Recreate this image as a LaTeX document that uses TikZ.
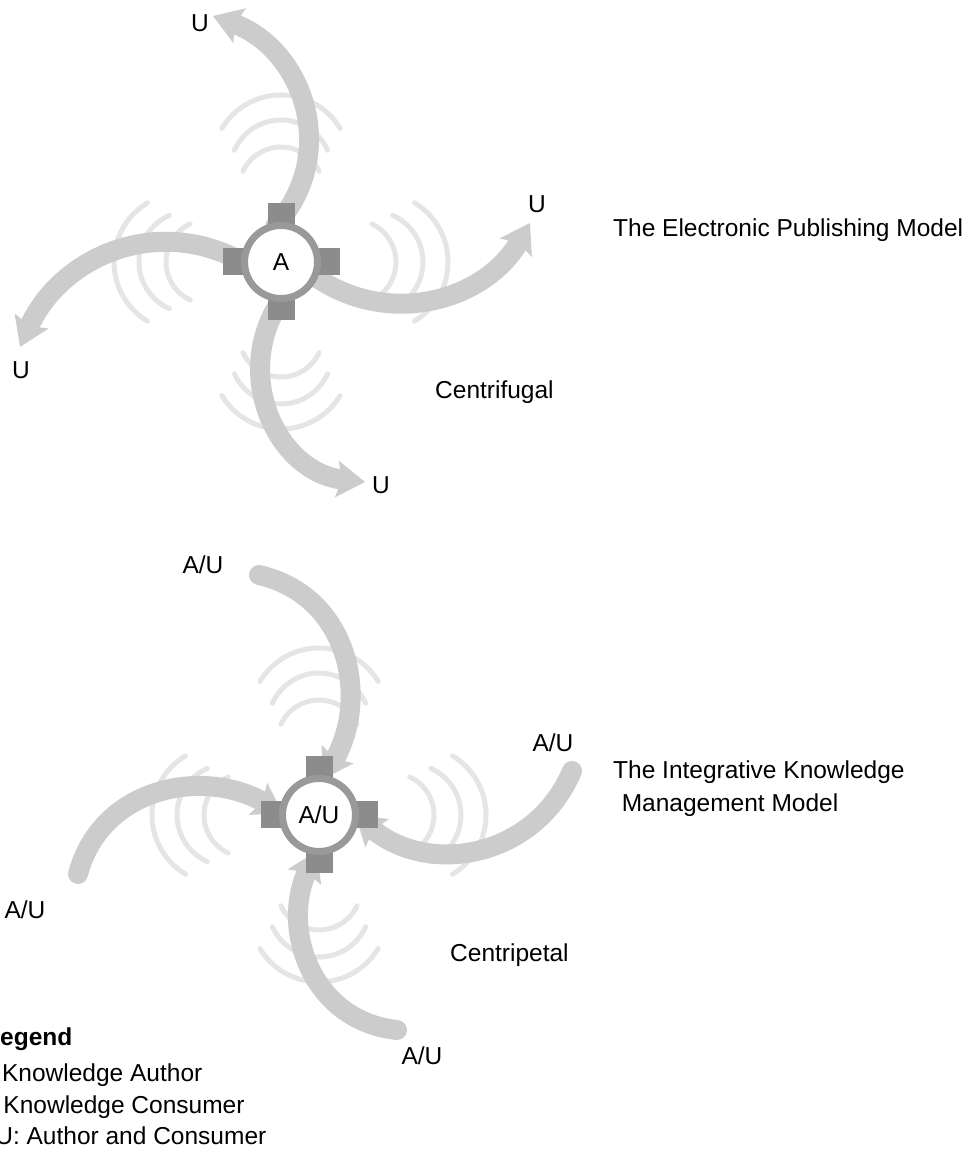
\documentclass[tikz,border=0pt]{standalone}
\usepackage{fontspec}
\setmainfont{Liberation Sans}
\usetikzlibrary{arrows.meta,backgrounds}
\definecolor{bandgray}{gray}{0.80}
\definecolor{wavegray}{gray}{0.90}
\definecolor{portgray}{gray}{0.55}
\definecolor{ringgray}{gray}{0.60}
\tikzset{
  hub/.style={circle, draw=ringgray, line width=7pt, fill=white, minimum size=73pt,
    inner sep=0pt, outer sep=0pt, font=\fontsize{24.5}{29}\selectfont},
  port/.style={rectangle, fill=portgray, minimum size=27pt, inner sep=0pt},
  band/.style={draw=bandgray, line width=20pt, line cap=round,
    -{Stealth[length=28pt,width=36pt,inset=5pt]}},
  wave/.style={draw=wavegray, line width=5pt, line cap=round},
  lbl/.style={font=\fontsize{24.5}{29}\selectfont, inner sep=0pt}
}

\begin{document}
\begin{tikzpicture}[x=1pt, y=1pt]
  \useasboundingbox (0,0) rectangle (977,1151);

  \coordinate (cA) at (281,889);
  \coordinate (cB) at (319,336);
  \foreach \a in {0,90,180,270} {
    \node[port] (pA\a) at ([shift={(\a:45)}]cA) {};
    \node[port] (pB\a) at ([shift={(\a:45)}]cB) {};
  }
  \node[hub] (hubA) at (cA) {A};
  \node[hub] (hubB) at (cB) {A/U};

  \coordinate (eN) at (213,1135);
  \coordinate (eE) at (530,928);
  \coordinate (eS) at (365,669);
  \coordinate (eW) at (20,804);
  \coordinate (kN) at (259,576);
  \coordinate (kE) at (572,380);
  \coordinate (kS) at (397,121);
  \coordinate (kW) at (78,277);

  \begin{scope}[on background layer]
    \foreach \c in {cA,cB}
      \foreach \r in {0,90,180,270} {
        \begin{scope}[shift={(\c)}, rotate=\r]
          \draw[wave] ([shift={(31:69)}]0,98) arc[start angle=31, end angle=149, radius=69];
          \draw[wave] ([shift={(24:51)}]0,91) arc[start angle=24, end angle=156, radius=51];
          \draw[wave] ([shift={(25:42)}]0,73) arc[start angle=25, end angle=155, radius=42];
        \end{scope}
      }

    \draw[band] (hubA.99) to[out=48, in=-20, looseness=1.13] (eN);
    \draw[band] (hubA.-23) to[out=-35, in=-120, looseness=1.04] (eE);
    \draw[band] (hubA.-88) to[out=235, in=174, looseness=1.14] (eS);
    \draw[band] (hubA.182) to[out=150, in=66, looseness=1.06] (eW);

    \draw[band] (kN) to[out=-13, in=60, looseness=1.11] (hubB.83);
    \draw[band] (kE) to[out=-113, in=-40, looseness=1.1] (hubB.0);
    \draw[band] (kS) to[out=174, in=245, looseness=1.12] (hubB.266);
    \draw[band] (kW) to[out=75, in=150, looseness=1.09] (hubB.177);
  \end{scope}

  \node[lbl] (uN) at (200,1128) {U};
  \node[lbl] (uE) at (537,947) {U};
  \node[lbl] (uS) at (381,666) {U};
  \node[lbl] (uW) at (21,781) {U};
  \node[lbl] (auN) at (203,586) {A/U};
  \node[lbl] (auE) at (553,408) {A/U};
  \node[lbl] (auS) at (422,95) {A/U};
  \node[lbl] (auW) at (25,241) {A/U};

  \node[lbl, anchor=base west] (titleEP) at (613,914) {The Electronic Publishing Model};
  \node[lbl, anchor=north west, align=left, font=\fontsize{24.5}{33}\selectfont] (titleIK) at (613,390)
    {The Integrative Knowledge\\\hspace*{0.35em}Management Model};
  \node[lbl, anchor=base west] (fugal) at (435,752) {Centrifugal};
  \node[lbl, anchor=base west] (petal) at (450,189) {Centripetal};

  \node[lbl, anchor=base west, font=\fontsize{24.5}{29}\selectfont\bfseries] (legend) at (-15,105) {Legend};
  \node[lbl, anchor=base west] (legA) at (-28,69) {A: Knowledge Author};
  \node[lbl, anchor=base west] (legU) at (-28,37) {U: Knowledge Consumer};
  \node[lbl, anchor=base west] (legAU) at (-28,6) {A/U: Author and Consumer};
\end{tikzpicture}
\end{document}
